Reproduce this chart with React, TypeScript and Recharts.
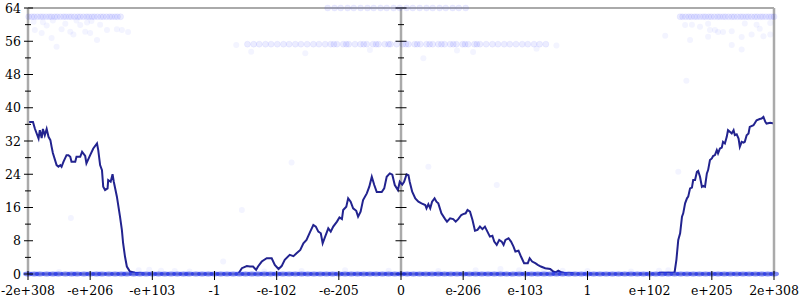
import React from 'react';
import { ComposedChart, Line, Scatter, XAxis, YAxis, ReferenceLine } from 'recharts';

const xTicks = [-6, -5, -4, -3, -2, -1, 0, 1, 2, 3, 4, 5, 6];
const xLabels = ['-2e+308', '-e+206', '-e+103', '-1', '-e-102', '-e-205', '0', 'e-206', 'e-103', '1', 'e+102', 'e+205', '2e+308'];
const yTicks = [0, 4, 8, 12, 16, 20, 24, 28, 32, 36, 40, 44, 48, 52, 56, 60, 64];

// histogram line, [x, count]
const lineSamples: [number, number][] = [
  [-6.0, 36.6], [-5.92, 36.6], [-5.89, 35.0], [-5.83, 32.6], [-5.81, 34.6], [-5.78, 32.7], [-5.76, 34.9],
  [-5.73, 33.4], [-5.7, 34.9], [-5.67, 33.0], [-5.64, 32.2], [-5.62, 30.6], [-5.6, 29.1], [-5.54, 26.2],
  [-5.51, 25.8], [-5.48, 26.2], [-5.46, 25.8], [-5.43, 27.0], [-5.38, 28.6], [-5.35, 28.6], [-5.32, 28.2],
  [-5.3, 27.0], [-5.24, 27.0], [-5.22, 28.2], [-5.16, 28.2], [-5.13, 29.4], [-5.08, 28.4], [-5.06, 26.6],
  [-5.0, 28.6], [-4.95, 30.2], [-4.89, 31.4], [-4.87, 29.8], [-4.84, 26.2], [-4.81, 25.0], [-4.79, 21.0],
  [-4.76, 20.2], [-4.72, 20.6], [-4.71, 22.6], [-4.67, 22.2], [-4.64, 24.0], [-4.62, 22.2], [-4.57, 18.6],
  [-4.52, 13.8], [-4.49, 10.6], [-4.47, 7.4], [-4.44, 4.2], [-4.41, 1.8], [-4.36, 0.6], [-4.28, 0.3],
  [-4.1, 0], [-3.0, 0], [-2.62, 0], [-2.56, 1.4], [-2.48, 1.9], [-2.43, 1.8], [-2.38, 1.8], [-2.33, 1.0],
  [-2.3, 1.8], [-2.24, 3.0], [-2.16, 3.8], [-2.08, 3.8], [-2.03, 2.2], [-1.97, 1.2], [-1.92, 1.9],
  [-1.87, 3.4], [-1.79, 4.6], [-1.73, 4.3], [-1.68, 5.0], [-1.62, 5.8], [-1.57, 7.4], [-1.52, 8.2],
  [-1.46, 10.2], [-1.41, 11.8], [-1.37, 11.4], [-1.33, 10.2], [-1.29, 9.8], [-1.26, 7.4], [-1.22, 9.0],
  [-1.17, 11.0], [-1.13, 10.2], [-1.09, 11.4], [-1.03, 12.6], [-0.99, 13.6], [-0.95, 13.2], [-0.93, 15.4],
  [-0.88, 16.2], [-0.85, 18.2], [-0.81, 17.4], [-0.77, 15.8], [-0.72, 15.2], [-0.69, 13.8], [-0.65, 15.0],
  [-0.61, 17.8], [-0.55, 19.4], [-0.51, 21.0], [-0.47, 23.4], [-0.43, 21.4], [-0.39, 19.7], [-0.31, 19.7],
  [-0.27, 20.6], [-0.23, 23.4], [-0.18, 24.2], [-0.14, 23.9], [-0.1, 21.4], [-0.05, 20.2], [-0.02, 22.2],
  [0.02, 21.5], [0.05, 22.2], [0.09, 24.0], [0.12, 23.8], [0.14, 22.2], [0.18, 19.8], [0.23, 18.2],
  [0.28, 17.4], [0.33, 17.0], [0.39, 16.6], [0.41, 15.8], [0.44, 16.8], [0.47, 15.8], [0.5, 17.4],
  [0.54, 18.2], [0.57, 17.4], [0.6, 17.0], [0.65, 14.6], [0.71, 13.2], [0.74, 12.6], [0.79, 13.4],
  [0.84, 13.2], [0.88, 12.6], [0.92, 13.2], [0.97, 14.2], [1.0, 14.4], [1.04, 14.6], [1.07, 15.4],
  [1.11, 15.0], [1.15, 13.0], [1.19, 10.4], [1.23, 10.6], [1.27, 11.4], [1.31, 10.8], [1.35, 11.4],
  [1.39, 10.2], [1.43, 9.0], [1.47, 9.2], [1.5, 7.8], [1.54, 7.0], [1.58, 8.2], [1.62, 7.8], [1.65, 7.0],
  [1.68, 8.2], [1.73, 8.6], [1.77, 7.8], [1.81, 6.6], [1.84, 5.4], [1.89, 5.6], [1.93, 4.2], [1.98, 2.6],
  [2.04, 2.6], [2.07, 3.8], [2.11, 3.0], [2.16, 2.6], [2.2, 2.2], [2.25, 1.8], [2.32, 1.4], [2.4, 1.2],
  [2.45, 0.6], [2.49, 0.4], [2.53, 0.8], [2.58, 0.4], [2.64, 0.2], [2.75, 0.2], [2.8, 0], [4.13, 0],
  [4.16, 0.3], [4.4, 0.3], [4.43, 3.4], [4.46, 8.2], [4.49, 9.8], [4.52, 13.8], [4.54, 14.6], [4.57, 17.0],
  [4.6, 18.2], [4.62, 18.6], [4.65, 20.6], [4.68, 20.8], [4.7, 22.6], [4.73, 22.6], [4.76, 24.6],
  [4.78, 24.8], [4.81, 23.4], [4.84, 21.0], [4.86, 21.2], [4.89, 21.0], [4.92, 24.2], [4.94, 25.0],
  [4.97, 27.4], [5.0, 27.8], [5.02, 28.4], [5.05, 28.6], [5.08, 29.8], [5.1, 29.0], [5.13, 30.2],
  [5.16, 30.4], [5.18, 31.8], [5.21, 31.4], [5.24, 33.0], [5.26, 34.6], [5.29, 34.2], [5.32, 33.8],
  [5.35, 34.6], [5.37, 33.4], [5.4, 33.6], [5.43, 32.6], [5.45, 30.6], [5.48, 31.8], [5.51, 31.6],
  [5.53, 31.8], [5.56, 33.4], [5.59, 33.8], [5.61, 35.4], [5.67, 35.8], [5.72, 37.0], [5.77, 37.3],
  [5.8, 37.4], [5.83, 37.8], [5.86, 36.6], [5.88, 36.2], [5.94, 36.4], [6.0, 36.2],
];

// faint sample points
const upperLeftX = [-5.99, -5.94, -5.9, -5.85, -5.8, -5.76, -5.71, -5.66, -5.62, -5.57, -5.53, -5.48, -5.43, -5.39, -5.34, -5.3, -5.25, -5.2, -5.16, -5.11, -5.06, -5.02, -4.97, -4.93, -4.88, -4.83, -4.79, -4.74, -4.69, -4.65, -4.6, -4.56, -4.51];
const upperRightX = [4.49, 4.53, 4.58, 4.63, 4.67, 4.72, 4.76, 4.81, 4.86, 4.9, 4.95, 4.99, 5.04, 5.09, 5.13, 5.18, 5.22, 5.27, 5.32, 5.36, 5.41, 5.46, 5.5, 5.55, 5.59, 5.64, 5.69, 5.73, 5.78, 5.82, 5.87, 5.92, 5.96, 6.0];
const middleX = [-2.47, -2.37, -2.28, -2.18, -2.09, -1.99, -1.89, -1.8, -1.7, -1.61, -1.51, -1.41, -1.32, -1.22, -1.13, -1.08, -1.03, -0.93, -0.88, -0.84, -0.74, -0.65, -0.6, -0.55, -0.45, -0.4, -0.36, -0.26, -0.2, -0.17, -0.07, 0.03, 0.08, 0.12, 0.22, 0.26, 0.31, 0.41, 0.46, 0.51, 0.6, 0.65, 0.7, 0.79, 0.84, 0.89, 0.99, 1.03, 1.08, 1.18, 1.22, 1.27, 1.37, 1.47, 1.56, 1.66, 1.75, 1.85, 1.95, 2.04, 2.14, 2.23, 2.33];
const topX = [-1.18, -1.07, -0.97, -0.86, -0.76, -0.65, -0.54, -0.44, -0.33, -0.23, -0.12, -0.02, 0.09, 0.19, 0.3, 0.41, 0.51, 0.62, 0.72, 0.83, 0.93, 1.04];
const zeroX = [
  -6.0, -5.9, -5.81, -5.7, -5.6, -5.51, -5.4, -5.3, -5.21, -5.1, -5.0, -4.9, -4.81, -4.7, -4.6, -4.5, -4.41, -4.3, -4.2, -4.1,
  -4.0, -3.9, -3.8, -3.7, -3.6, -3.5, -3.41, -3.3, -3.2, -3.1, -3.0, -2.9, -2.8, -2.7, -2.6, -2.5, -2.4, -2.3, -2.2, -2.1,
  -2.0, -1.9, -1.8, -1.7, -1.6, -1.5, -1.4, -1.3, -1.2, -1.1, -1.0, -0.9, -0.8, -0.7, -0.6, -0.5, -0.4, -0.3, -0.2, -0.1,
  0.0, 0.1, 0.2, 0.3, 0.4, 0.5, 0.6, 0.7, 0.8, 0.9, 1.0, 1.1, 1.2, 1.3, 1.4, 1.5, 1.6, 1.7, 1.8, 1.9,
  2.0, 2.1, 2.2, 2.3, 2.4, 2.5, 2.6, 2.7, 2.8, 2.9, 3.0, 3.1, 3.2, 3.3, 3.4, 3.5, 3.6, 3.7, 3.8, 3.9,
  4.0, 4.1, 4.2, 4.3, 4.4, 4.5, 4.6, 4.7, 4.8, 4.9, 5.0, 5.1, 5.2, 5.3, 5.4, 5.5, 5.6, 5.7, 5.8, 5.9, 6.0,
];
const strayPoints: [number, number][] = [
  [-5.91, 60.7], [-5.76, 60.6], [-5.89, 58.7], [-5.78, 58.0], [-5.62, 56.8], [-5.54, 54.7], [-5.46, 58.9],
  [-5.32, 58.3], [-5.27, 57.6], [-5.16, 59.9], [-5.08, 58.3], [-5.0, 58.0], [-4.89, 56.3], [-4.84, 60.0],
  [-4.73, 58.7], [-4.57, 58.9], [-4.49, 58.7], [-4.39, 58.2], [-5.22, 61.0], [-4.98, 60.9], [-5.7, 59.8],
  [-5.4, 60.2], [-5.6, 61.0], [-5.05, 60.5],
  [4.57, 59.9], [4.68, 60.0], [4.81, 59.5], [4.94, 60.2], [4.97, 58.7], [5.05, 58.7], [5.1, 58.2],
  [4.94, 57.1], [5.18, 58.2], [5.32, 58.4], [5.32, 55.1], [5.48, 54.0], [5.48, 57.0], [5.64, 57.6],
  [5.77, 59.0], [5.72, 60.0], [5.83, 57.2], [5.94, 57.6], [4.25, 57.3], [4.65, 56.3], [4.59, 46.5],
  [5.53, 60.3], [5.94, 60.4],
  [-2.41, 53.5], [-1.54, 53.1], [0.36, 51.9], [1.16, 53.4], [2.18, 54.2], [-0.5, 53.9], [0.9, 53.8],
  [-2.65, 55.1], [2.5, 55.0],
  [-1.76, 26.8], [-2.56, 15.4], [-2.86, 3.0], [0.44, 25.8], [1.54, 21.4], [-5.31, 13.5], [4.46, 24.6],
  [-4.22, 0.9], [-4.05, 1.0], [-3.86, 0.8], [-3.64, 0.7], [-3.4, 0.6], [1.6, 1.2], [1.9, 0.9], [2.3, 1.0],
  [2.6, 0.8], [3.0, 0.7], [3.7, 0.6], [-0.9, 0.9], [-0.2, 0.8], [0.6, 0.7], [1.2, 0.9], [-1.6, 0.7],
  [-2.2, 0.6], [4.3, 0.9], [4.15, 0.8], [-5.5, 0.5],
];

const FONT = "'DejaVu Serif', 'Liberation Serif', serif";
const AXIS_GRAY = '#aaaaaa';

const lineData = lineSamples.map(([x, y]) => ({ x, y }));
const bandData = [
  ...upperLeftX.map((x) => ({ x, y: 61.9 })),
  ...upperRightX.map((x) => ({ x, y: 61.9 })),
  ...middleX.map((x) => ({ x, y: 55.3 })),
  ...topX.map((x) => ({ x, y: 64 })),
];
const strayData = strayPoints.map(([x, y]) => ({ x, y }));
const zeroData = zeroX.map((x) => ({ x, y: 0 }));
const centerTicks = yTicks.map((y) => ({ x: 0, y }));

const Dot = (p: any) => (
  <circle cx={p.cx} cy={p.cy} r={3} fill="#2030ff" fillOpacity={0.09} stroke="#2030ff" strokeOpacity={0.05} />
);
const FaintDot = (p: any) => (
  <circle cx={p.cx} cy={p.cy} r={3} fill="#2030ff" fillOpacity={0.055} />
);
const ZeroDot = (p: any) => (
  <ellipse cx={p.cx} cy={p.cy} rx={5} ry={2.4} fill="#1a2cf0" fillOpacity={0.55} />
);
const CenterTick = (p: any) => {
  const major = p.payload.y % 8 === 0;
  const h = major ? 5.5 : 3;
  return <line x1={p.cx - h} x2={p.cx + h} y1={p.cy} y2={p.cy} stroke="#000" strokeWidth={1} />;
};

const LeftTick = (props: any) => {
  const { x, y, payload } = props;
  const major = payload.value % 8 === 0;
  return (
    <g>
      <line x1={x - (major ? 4 : 3)} x2={x + (major ? 5 : 3)} y1={y} y2={y} stroke="#000" />
      {major && (
        <text x={x - 7} y={y} dy={4.5} textAnchor="end" style={{ fontFamily: FONT, fontSize: 12.5 }} fill="#000">
          {payload.value}
        </text>
      )}
    </g>
  );
};

const RightTick = (props: any) => {
  const { x, y, payload } = props;
  const major = payload.value % 8 === 0;
  const h = major ? 6 : 3.5;
  return <line x1={x - h} x2={x + h} y1={y} y2={y} stroke="#000" />;
};

const BottomTick = (props: any) => {
  const { x, y, payload } = props;
  const idx = xTicks.indexOf(payload.value);
  return (
    <g>
      <line x1={x} x2={x} y1={y - 3} y2={y + 6} stroke="#000" />
      <text x={x} y={y} dy={20.5} textAnchor="middle" style={{ fontFamily: FONT, fontSize: 12.5 }} fill="#000">
        {xLabels[idx]}
      </text>
    </g>
  );
};

export default function App() {
  return (
    <div style={{ position: 'absolute', left: 0, top: 0, width: 800, height: 300, background: '#fff' }}>
      <ComposedChart width={800} height={300} margin={{ top: 8, right: 0, bottom: 0, left: 0 }}>
        <XAxis
          dataKey="x"
          type="number"
          domain={[-6, 6]}
          ticks={xTicks}
          height={26}
          tickLine={false}
          tickSize={0}
          tickMargin={0}
          tick={<BottomTick />}
          axisLine={{ stroke: AXIS_GRAY, strokeWidth: 2.5 }}
          interval={0}
        />
        <YAxis
          yAxisId="left"
          dataKey="y"
          type="number"
          domain={[0, 64]}
          ticks={yTicks}
          width={28}
          tickLine={false}
          tickSize={0}
          tickMargin={0}
          tick={<LeftTick />}
          axisLine={{ stroke: AXIS_GRAY, strokeWidth: 2.5 }}
          interval={0}
        />
        <YAxis
          yAxisId="right"
          orientation="right"
          type="number"
          domain={[0, 64]}
          ticks={yTicks}
          width={26}
          tickLine={false}
          tickSize={0}
          tickMargin={0}
          tick={<RightTick />}
          axisLine={{ stroke: AXIS_GRAY, strokeWidth: 2.5 }}
          interval={0}
        />
        <ReferenceLine yAxisId="left" y={64} stroke={AXIS_GRAY} strokeWidth={2} />
        <ReferenceLine yAxisId="left" x={0} stroke={AXIS_GRAY} strokeWidth={2.5} />
        <Scatter yAxisId="left" data={centerTicks} shape={CenterTick} isAnimationActive={false} />
        <Scatter yAxisId="left" data={bandData} shape={Dot} isAnimationActive={false} />
        <Scatter yAxisId="left" data={strayData} shape={FaintDot} isAnimationActive={false} />
        <Scatter yAxisId="left" data={zeroData} shape={ZeroDot} isAnimationActive={false} />
        <Line
          yAxisId="left"
          data={lineData}
          dataKey="y"
          type="linear"
          stroke="#22238f"
          strokeWidth={2}
          dot={false}
          activeDot={false}
          isAnimationActive={false}
        />
      </ComposedChart>
    </div>
  );
}
